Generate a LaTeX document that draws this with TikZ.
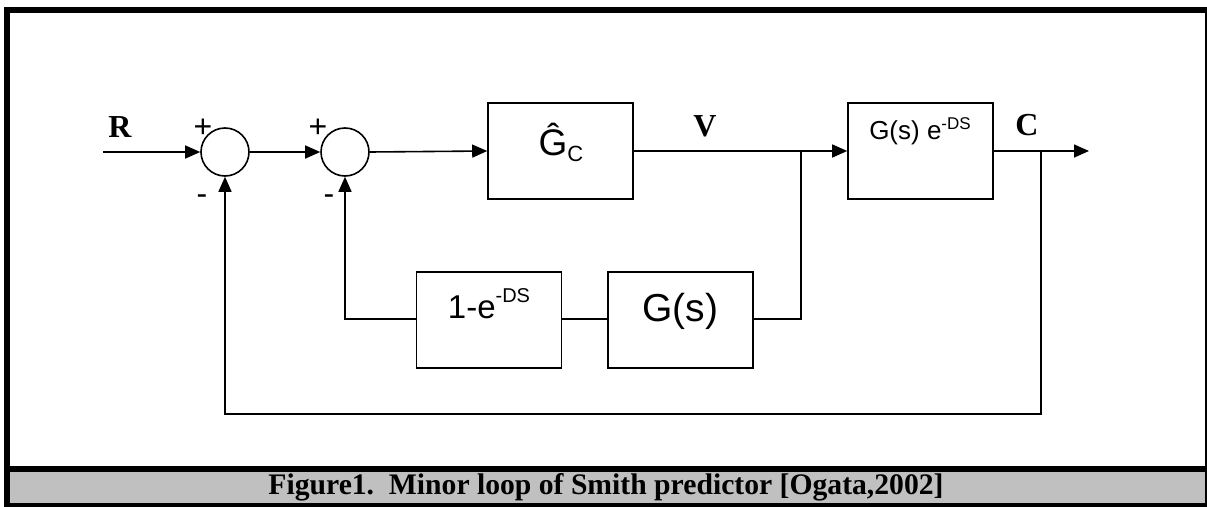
\documentclass[tikz,border=0pt]{standalone}
\usepackage{fontspec}
\setmainfont{Liberation Serif}
\newfontfamily\arialf{Liberation Sans}
\usetikzlibrary{arrows.meta}
\definecolor{capgray}{RGB}{192,192,192}
\begin{document}
\begin{tikzpicture}[x=1pt,y=-1pt,
  wire/.style={line width=1.6pt},
  arr/.style={wire,-{Triangle[length=15pt,width=13pt]}},
  blk/.style={draw,line width=1.6pt,minimum width=145pt,minimum height=96pt,inner sep=0pt},
  sumc/.style={draw,circle,line width=1.6pt,minimum size=48pt,inner sep=0pt},
  lbl/.style={font=\fontsize{32}{34}\selectfont\bfseries},
  sgn/.style={font=\arialf\fontsize{32}{34}\selectfont}]
\useasboundingbox (0,0) rectangle (1207,506);
% frame
\fill[capgray] (10,472) rectangle (1205,503);
\draw[line width=6pt] (7,506) -- (7,10) -- (1208,10) -- (1208,506);
\draw[line width=6pt] (7,469) -- (1208,469);
\draw[line width=6pt] (4,506) -- (1207,506);
\node (cap) at (606,487) {\resizebox{675pt}{21pt}{\bfseries Figure1.\ \ Minor loop of Smith predictor [Ogata,2002]}};
% nodes
\coordinate (in) at (103,152);
\node[sumc] (s1) at (225,152) {};
\node[sumc] (s2) at (345,152) {};
\node[blk] (gc) at (560.5,151) {};
\node[font=\arialf\fontsize{37}{39}\selectfont] (gct) at (561,142) {Ĝ\raisebox{-6pt}{\fontsize{22}{23}\selectfont C}};
\node[blk] (gp) at (920.5,151) {};
\node[font=\arialf\fontsize{26}{28}\selectfont] (gpt) at (920,131) {G(s) e\raisebox{10pt}{\fontsize{17}{18}\selectfont -DS}};
\node[blk] (bd) at (489,320) {};
\node[font=\arialf\fontsize{33}{35}\selectfont] (bdt) at (489,304) {1-e\raisebox{16pt}{\fontsize{20}{21}\selectfont -DS}};
\node[blk] (bg) at (680.5,320) {};
\node[font=\arialf\fontsize{39}{41}\selectfont] (bgt) at (680.5,311) {G(s)};
\coordinate (jv) at (801,151);
\coordinate (jc) at (1041,151);
\coordinate (out) at (1089,151);
\coordinate (bl) at (225,414);
\coordinate (br) at (1041,414);
\coordinate (ml) at (345,319);
\coordinate (mr) at (801,319);
% labels
\node[lbl] (lr) at (120,127) {R};
\node[lbl] (lv) at (705,126) {V};
\node[lbl] (lc) at (1027,125) {C};
\node[sgn] (p1) at (203,128) {+};
\node[sgn] (m1) at (202,200) {-};
\node[sgn] (p2) at (318,128) {+};
\node[sgn] (m2) at (329,200) {-};
% connectors
\draw[arr] (in) -- (s1.west);
\draw[arr] (s1.east) -- (s2.west);
\draw[arr] (s2.east) -- (gc.west);
\draw[wire] (gc.east) -- (jv);
\draw[arr] (jv) -- (gp.west);
\draw[arr] (gp.east) -- (out);
\draw[wire] (jv) -- (mr) -- (bg.east|-mr);
\draw[wire] (bg.west|-mr) -- (bd.east|-mr);
\draw[arr] (bd.west|-ml) -- (ml) -- (s2.south);
\draw[arr] (jc) -- (br) -- (bl) -- (s1.south);
\end{tikzpicture}
\end{document}
